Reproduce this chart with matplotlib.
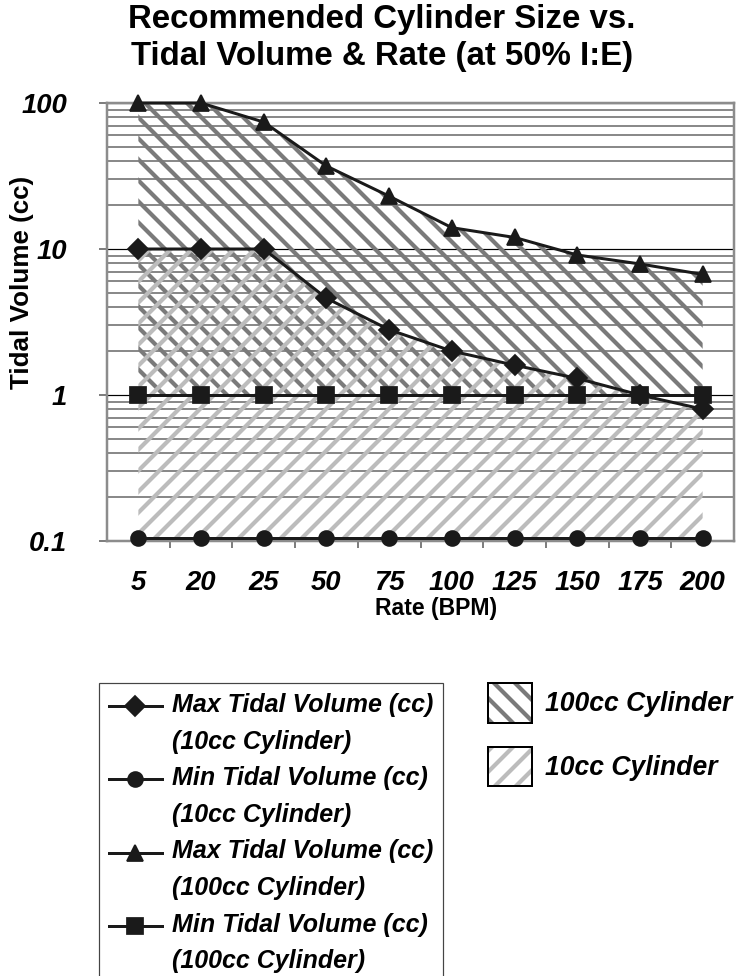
import numpy as np
import matplotlib
matplotlib.use("Agg")
import matplotlib.pyplot as plt
from matplotlib.lines import Line2D
from matplotlib.patches import Rectangle
from matplotlib.legend_handler import HandlerLine2D, HandlerTuple
from matplotlib.ticker import FixedLocator, NullFormatter

DPI = 126
PX = 72 / DPI  # points per pixel

plt.rcParams['font.family'] = ['Liberation Sans', 'DejaVu Sans']
plt.rcParams['hatch.linewidth'] = 4.2 * PX

# breathing rate categories (BPM)
rates = ['5', '20', '25', '50', '75', '100', '125', '150', '175', '200']

# tidal volume limits (cc)
max_10cc = [10, 10, 10, 4.6, 2.8, 2.0, 1.6, 1.3, 1.0, 0.8]
min_10cc = [0.105, 0.105, 0.105, 0.105, 0.105, 0.105, 0.105, 0.105, 0.105, 0.105]
max_100cc = [100, 100, 74, 37, 23, 14, 12, 9.1, 7.9, 6.7]
min_100cc = [1, 1, 1, 1, 1, 1, 1, 1, 1, 1]

y_ticks = [0.1, 1, 10, 100]
y_tick_labels = ['0.1', '1', '10', '100']

DARK_HATCH = '#7a7a7a'
LIGHT_HATCH = '#bcbcbc'
LINE_COLOR = '#1a1a1a'


class TopLineHandler(HandlerLine2D):
    """Puts the legend line level with the first row of a two-line label."""
    def create_artists(self, legend, orig_handle, xdescent, ydescent,
                       width, height, fontsize, trans):
        return super().create_artists(legend, orig_handle, xdescent,
                                      ydescent - 1.44 * fontsize, width,
                                      height, fontsize, trans)


fig = plt.figure(figsize=(741 / DPI, 976 / DPI), dpi=DPI)
ax = fig.add_axes([107 / 741, 1 - 541 / 976, 627 / 741, 438 / 976])

x = np.arange(len(rates))

# cylinder ranges as hatched bands
ax.fill_between(x, min_100cc, max_100cc, facecolor='none', edgecolor=DARK_HATCH,
                linewidth=0, hatch='\\\\', zorder=1)
ax.fill_between(x, min_10cc, max_10cc, facecolor='none', edgecolor=LIGHT_HATCH,
                linewidth=0, hatch='//', zorder=1.1)

line_kw = dict(color=LINE_COLOR, linewidth=3 * PX, clip_on=False, zorder=3)
ax.plot(x, max_10cc, marker='D', markersize=8, **line_kw)
ax.plot(x, min_10cc, marker='o', markersize=8.5, **line_kw)
ax.plot(x, max_100cc, marker='^', markersize=9.5, **line_kw)
ax.plot(x, min_100cc, marker='s', markersize=9.5, **line_kw)

ax.set_yscale('log')
ax.set_ylim(0.1, 100)
ax.set_xlim(-0.5, len(rates) - 0.5)

ax.yaxis.set_major_locator(FixedLocator(y_ticks))
ax.set_yticklabels(y_tick_labels)
ax.yaxis.set_minor_formatter(NullFormatter())
ax.set_xticks(x)
ax.set_xticklabels(rates)
ax.set_xticks(np.arange(0.5, len(rates) - 1), minor=True)

for lbl in ax.get_xticklabels() + ax.get_yticklabels():
    lbl.set_fontsize(27.5 * PX)
    lbl.set_fontweight('bold')
    lbl.set_fontstyle('italic')

ax.tick_params(axis='x', which='major', length=0, pad=29 * PX)
ax.tick_params(axis='x', which='minor', length=7 * PX, width=1.5 * PX,
               color='#555555', direction='out')
ax.tick_params(axis='y', which='major', length=8 * PX, width=1.5 * PX,
               color='#555555', direction='out', pad=32 * PX)
ax.tick_params(axis='y', which='minor', length=0)

ax.set_axisbelow(True)
ax.yaxis.grid(True, which='major', color='black', linewidth=1.2 * PX)
ax.yaxis.grid(True, which='minor', color='#6e6e6e', linewidth=1.6 * PX)

for s in ax.spines.values():
    s.set_color('#8c8c8c')
    s.set_linewidth(2.5 * PX)

ax.set_xlabel('Rate (BPM)', fontsize=23 * PX, fontweight='bold')
ax.xaxis.set_label_coords(0.525, -0.153)
ax.xaxis.label.set_va('center')
ax.set_ylabel('Tidal Volume (cc)', fontsize=26 * PX, fontweight='bold')
ax.yaxis.set_label_coords(-0.135, 0.59)
ax.yaxis.label.set_va('center')

fig.text(382 / 741, 1 - 38 / 976,
         'Recommended Cylinder Size vs.\nTidal Volume & Rate (at 50% I:E)',
         ha='center', va='center', fontsize=33 * PX, fontweight='bold',
         linespacing=1.27)

# series legend
series_handles = [
    Line2D([], [], color=LINE_COLOR, linewidth=3 * PX, marker='D', markersize=8),
    Line2D([], [], color=LINE_COLOR, linewidth=3 * PX, marker='o', markersize=8.5),
    Line2D([], [], color=LINE_COLOR, linewidth=3 * PX, marker='^', markersize=9.5),
    Line2D([], [], color=LINE_COLOR, linewidth=3 * PX, marker='s', markersize=9.5),
]
series_labels = [
    'Max Tidal Volume (cc)\n(10cc Cylinder)',
    'Min Tidal Volume (cc)\n(10cc Cylinder)',
    'Max Tidal Volume (cc)\n(100cc Cylinder)',
    'Min Tidal Volume (cc)\n(100cc Cylinder)',
]
leg1 = fig.legend(series_handles, series_labels, loc='upper left',
                  bbox_to_anchor=(99 / 741, 1 - 683 / 976), borderaxespad=0,
                  prop=dict(family='Liberation Sans', weight='bold',
                            style='italic', size=25 * PX),
                  handlelength=2.1, handletextpad=0.4, borderpad=0.4,
                  labelspacing=0.5, fancybox=False, edgecolor='#444444',
                  framealpha=1,
                  handler_map={Line2D: TopLineHandler()})
leg1.get_frame().set_linewidth(1.2 * PX)
for t in leg1.get_texts():
    t.set_linespacing(1.67)

# cylinder legend
hatch_100 = Rectangle((0, 0), 1, 1, facecolor='white', edgecolor=DARK_HATCH,
                      linewidth=0, hatch='\\\\')
hatch_10 = Rectangle((0, 0), 1, 1, facecolor='white', edgecolor=LIGHT_HATCH,
                     linewidth=0, hatch='//')
border = Rectangle((0, 0), 1, 1, facecolor='none', edgecolor='black',
                   linewidth=2 * PX)
fig.legend([(hatch_100, border), (hatch_10, border)],
           ['100cc Cylinder', '10cc Cylinder'], loc='upper left',
           bbox_to_anchor=(488 / 741, 1 - 683 / 976), borderaxespad=0,
           borderpad=0, frameon=False,
           prop=dict(family='Liberation Sans', weight='bold',
                     style='italic', size=26.5 * PX),
           handlelength=1.66, handleheight=1.93, handletextpad=0.5,
           labelspacing=0.9,
           handler_map={tuple: HandlerTuple(ndivide=1, pad=0)})

fig.savefig('out.png', dpi=DPI)
